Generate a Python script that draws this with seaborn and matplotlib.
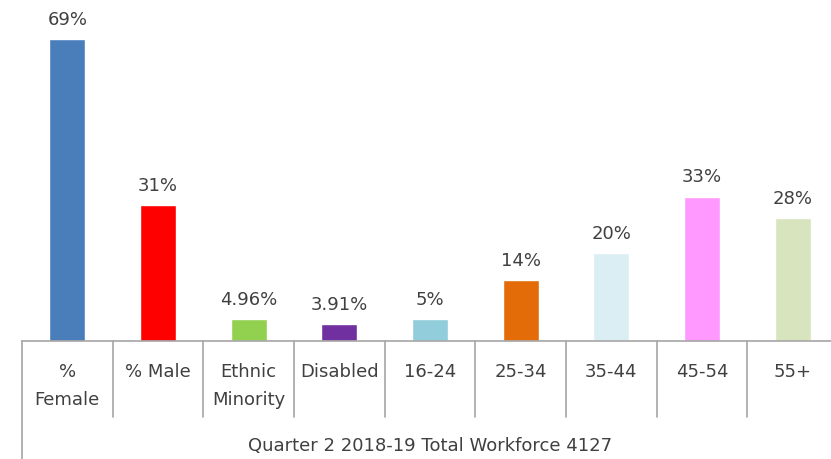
import matplotlib
matplotlib.use("Agg")
import matplotlib.pyplot as plt
import seaborn as sns
import pandas as pd
from matplotlib.lines import Line2D

categories = ["% Female", "% Male", "Ethnic Minority", "Disabled",
              "16-24", "25-34", "35-44", "45-54", "55+"]
tick_labels = ["%\nFemale", "% Male", "Ethnic\nMinority", "Disabled",
               "16-24", "25-34", "35-44", "45-54", "55+"]
values = [69, 31, 4.96, 3.91, 5, 14, 20, 33, 28]
value_labels = ["69%", "31%", "4.96%", "3.91%", "5%", "14%", "20%", "33%", "28%"]
colors = ["#4A7EBB", "#FF0000", "#92D050", "#7030A0", "#92CDDC",
          "#E36C09", "#DBEEF4", "#FF99FF", "#D7E4BD"]
group_label = "Quarter 2 2018-19 Total Workforce 4127"

sns.set_style("white")
plt.rcParams["font.family"] = ["DejaVu Sans"]
text_color = "#404040"
line_color = "#A6A6A6"
fs = 13

W, H = 831, 460
fig = plt.figure(figsize=(W / 100, H / 100), dpi=100)
base_y = 342
ax = fig.add_axes([22 / W, (H - base_y) / H, 816 / W, base_y / H])

df = pd.DataFrame({"category": categories, "value": values})
sns.barplot(data=df, x="category", y="value", hue="category",
            palette=colors, width=0.4, legend=False, ax=ax, saturation=1)

ax.set_xlim(-0.5, len(categories) - 0.5)
ax.set_ylim(0, base_y / 4.377)
for s in ["top", "right", "left"]:
    ax.spines[s].set_visible(False)
ax.spines["bottom"].set_color(line_color)
ax.spines["bottom"].set_linewidth(1.2)
ax.set_xticks([])
ax.set_yticks([])
ax.set_xlabel("")
ax.set_ylabel("")

for i, (v, lab) in enumerate(zip(values, value_labels)):
    ax.annotate(lab, (i, v), xytext=(0, 8), textcoords="offset points",
                ha="center", va="bottom", fontsize=fs, color=text_color)

trans = ax.get_xaxis_transform()
px = 1 / base_y  # one pixel in axes-y fraction
for i, lab in enumerate(tick_labels):
    ax.text(i, -21 * px, lab, transform=trans, ha="center", va="top",
            fontsize=fs, color=text_color, linespacing=1.7, clip_on=False)

# Category separators and the outer left border of the group box
for i in range(1, len(categories) + 1):
    ax.add_line(Line2D([i - 0.5, i - 0.5], [0, -76 * px], transform=trans,
                       color=line_color, lw=1.2, clip_on=False))
ax.add_line(Line2D([-0.5, -0.5], [0, -(H - base_y) * px], transform=trans,
                   color=line_color, lw=1.2, clip_on=False))

ax.text((len(categories) - 1) / 2, -104 * px, group_label, transform=trans,
        ha="center", va="center", fontsize=fs, color=text_color, clip_on=False)

fig.savefig("out.png", dpi=100)
